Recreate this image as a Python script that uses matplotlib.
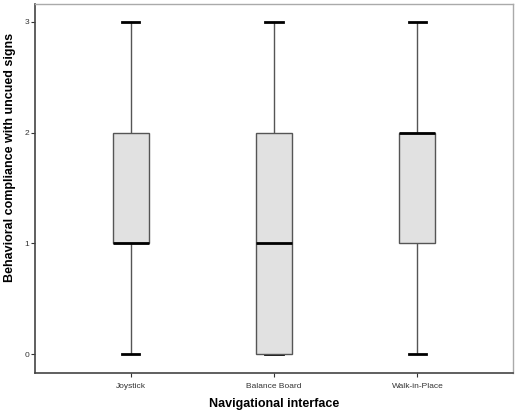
import matplotlib.pyplot as plt

plt.rcParams['font.family'] = ['Liberation Sans', 'DejaVu Sans']

# Box statistics
labels = ["Joystick", "Balance Board", "Walk-in-Place"]
whislo = [0, 0, 0]
q1 = [1, 0, 1]
med = [1, 1, 2]
q3 = [2, 2, 2]
whishi = [3, 3, 3]

stats = [
    {"label": lab, "whislo": lo, "q1": a, "med": m, "q3": b, "whishi": hi, "fliers": []}
    for lab, lo, a, m, b, hi in zip(labels, whislo, q1, med, q3, whishi)
]

fig = plt.figure(figsize=(5.2, 4.18), dpi=100)
ax = fig.add_axes([35 / 520, 1 - 373 / 418, 478 / 520, 369 / 418])

ax.bxp(stats, positions=[1, 2, 3], widths=0.25, patch_artist=True,
       boxprops=dict(facecolor="#e1e1e1", edgecolor="#555555", linewidth=1.0, zorder=3),
       medianprops=dict(color="black", linewidth=2, zorder=4),
       whiskerprops=dict(color="#555555", linewidth=1.0, zorder=1),
       capprops=dict(color="black", linewidth=2, zorder=1),
       capwidths=0.12)

ax.set_xlim(1 / 3, 11 / 3)
ax.set_ylim(-0.17, 3.16)
ax.set_yticks([0, 1, 2, 3])
ax.set_yticklabels(["0", "1", "2", "3"])
ax.tick_params(axis="both", labelsize=6, colors="#333333", length=3, width=0.8)
ax.tick_params(axis="y", pad=1)
ax.tick_params(axis="x", pad=4)

for side in ["left", "bottom"]:
    ax.spines[side].set_color("#444444")
    ax.spines[side].set_linewidth(1.2)
for side in ["top", "right"]:
    ax.spines[side].set_color("#aaaaaa")
    ax.spines[side].set_linewidth(1.0)

ax.set_xlabel("Navigational interface", fontsize=9, fontweight="bold", labelpad=6)
ax.set_ylabel("Behavioral compliance with uncued signs", fontsize=9,
              fontweight="bold")
ax.yaxis.set_label_coords(-19 / 478, 0.585)

fig.savefig("out.png", dpi=100)
